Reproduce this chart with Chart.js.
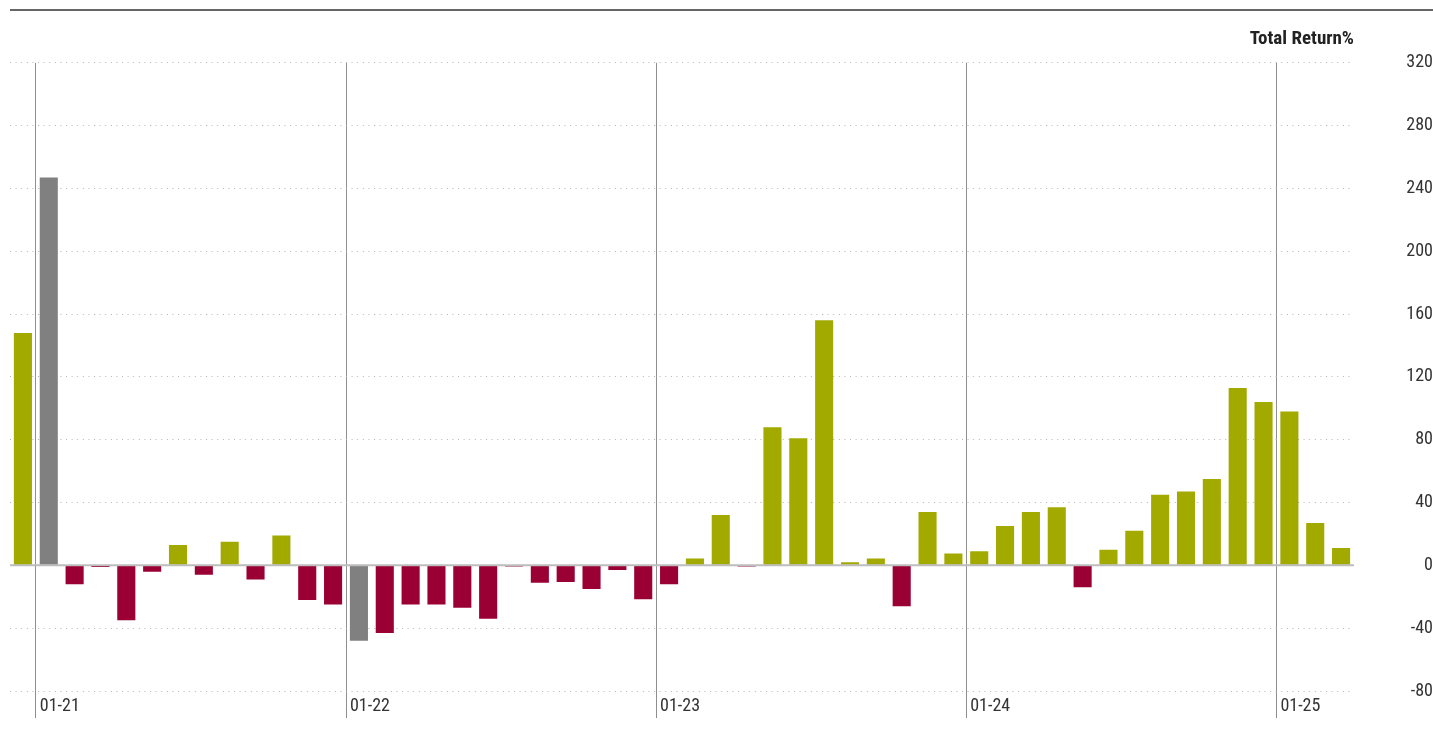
<!DOCTYPE html>
<html>
<head>
<meta charset="utf-8">
<script src="https://cdn.jsdelivr.net/npm/chart.js@4"></script>
<style>
    body { margin: 0; background: #fff; }
</style>
</head>
<body>
<canvas id="graph" width="1433" height="729"></canvas>
<script>
// Monthly total return %, Dec 2020 - Mar 2025
var labels = [
    "12-20",
    "01-21", "02-21", "03-21", "04-21", "05-21", "06-21", "07-21", "08-21", "09-21", "10-21", "11-21", "12-21",
    "01-22", "02-22", "03-22", "04-22", "05-22", "06-22", "07-22", "08-22", "09-22", "10-22", "11-22", "12-22",
    "01-23", "02-23", "03-23", "04-23", "05-23", "06-23", "07-23", "08-23", "09-23", "10-23", "11-23", "12-23",
    "01-24", "02-24", "03-24", "04-24", "05-24", "06-24", "07-24", "08-24", "09-24", "10-24", "11-24", "12-24",
    "01-25", "02-25", "03-25"
];
var values = [
    148,
    247, -12, -1, -35, -4, 13, -6, 15, -9, 19, -22, -25,
    -48, -43, -25, -25, -27, -34, -0.8, -11, -10.6, -15, -3, -21.6,
    -12, 4.4, 32, -0.8, 88, 81, 156, 2, 4.4, -26, 34, 7.6,
    9, 25, 34, 37, -14, 10, 22, 45, 47, 55, 113, 104,
    98, 27, 11
];
// months drawn in grey instead of green/red
var greyMonths = ["01-21", "01-22"];
var yTicks = [-80, -40, 0, 40, 80, 120, 160, 200, 240, 280, 320];

var FONT = '"Liberation Sans Narrow", "Roboto Condensed", "DejaVu Sans Condensed", Roboto, sans-serif';

// top rule and the zero line over the bars
var extraLines = {
    id: 'extraLines',
    afterDatasetsDraw: function (chart) {
        var ctx = chart.ctx;
        var area = chart.chartArea;
        var y0 = chart.scales.y.getPixelForValue(0);
        ctx.save();
        ctx.strokeStyle = '#bdbdbd';
        ctx.lineWidth = 2;
        ctx.beginPath();
        ctx.moveTo(area.left, y0);
        ctx.lineTo(area.right, y0);
        ctx.stroke();
        ctx.restore();
    },
    afterDraw: function (chart) {
        var ctx = chart.ctx;
        ctx.save();
        ctx.strokeStyle = '#333';
        ctx.lineWidth = 1.5;
        ctx.beginPath();
        ctx.moveTo(10, 10);
        ctx.lineTo(chart.width, 10);
        ctx.stroke();
        ctx.restore();
    }
};

var ctx = document.getElementById('graph').getContext('2d');
var myChart = new Chart(ctx, {
    type: 'bar',
    data: {
        labels: labels,
        datasets: [{
            label: 'Total Return%',
            data: values,
            backgroundColor: function (c) {
                if (greyMonths.indexOf(labels[c.dataIndex]) >= 0) return '#808080';
                return values[c.dataIndex] >= 0 ? '#a2aa00' : '#9b0034';
            },
            categoryPercentage: 1,
            barPercentage: 0.7
        }]
    },
    options: {
        responsive: false,
        animation: false,
        layout: {
            padding: { left: 10, right: 0, top: 0, bottom: 0 }
        },
        scales: {
            x: {
                grid: {
                    offset: true,
                    color: function (c) {
                        var l = labels[c.index];
                        return l && l.indexOf('01-') === 0 ? '#8f8f8f' : 'rgba(0,0,0,0)';
                    },
                    lineWidth: 1,
                    tickLength: 27
                },
                border: { display: false },
                ticks: {
                    autoSkip: false,
                    maxRotation: 0,
                    align: 'start',
                    labelOffset: -9,
                    padding: -22,
                    color: '#333',
                    font: { family: FONT, size: 18 },
                    callback: function (v, i) {
                        return labels[i].indexOf('01-') === 0 ? labels[i] : '';
                    }
                },
                afterFit: function (scale) {
                    scale.height = 38;
                }
            },
            y: {
                position: 'right',
                min: -80,
                max: 320,
                afterBuildTicks: function (scale) {
                    scale.ticks = yTicks.map(function (v) { return { value: v }; });
                },
                grid: {
                    color: function (c) {
                        return c.tick && c.tick.value === 0 ? 'rgba(0,0,0,0)' : '#b5b5b5';
                    },
                    lineWidth: 1,
                    drawTicks: false
                },
                border: { display: false, dash: [1, 4.6] },
                ticks: {
                    crossAlign: 'far',
                    padding: 0,
                    color: '#333',
                    font: { family: FONT, size: 18 }
                },
                afterFit: function (scale) {
                    scale.width = 79;
                }
            }
        },
        plugins: {
            legend: { display: false },
            tooltip: { enabled: false },
            title: {
                display: true,
                text: 'Total Return%',
                align: 'end',
                fullSize: false,
                color: '#222',
                font: { family: FONT, size: 19, weight: 'bold' },
                padding: { top: 28, bottom: 12 }
            }
        }
    },
    plugins: [extraLines]
});
</script>
</body>
</html>
